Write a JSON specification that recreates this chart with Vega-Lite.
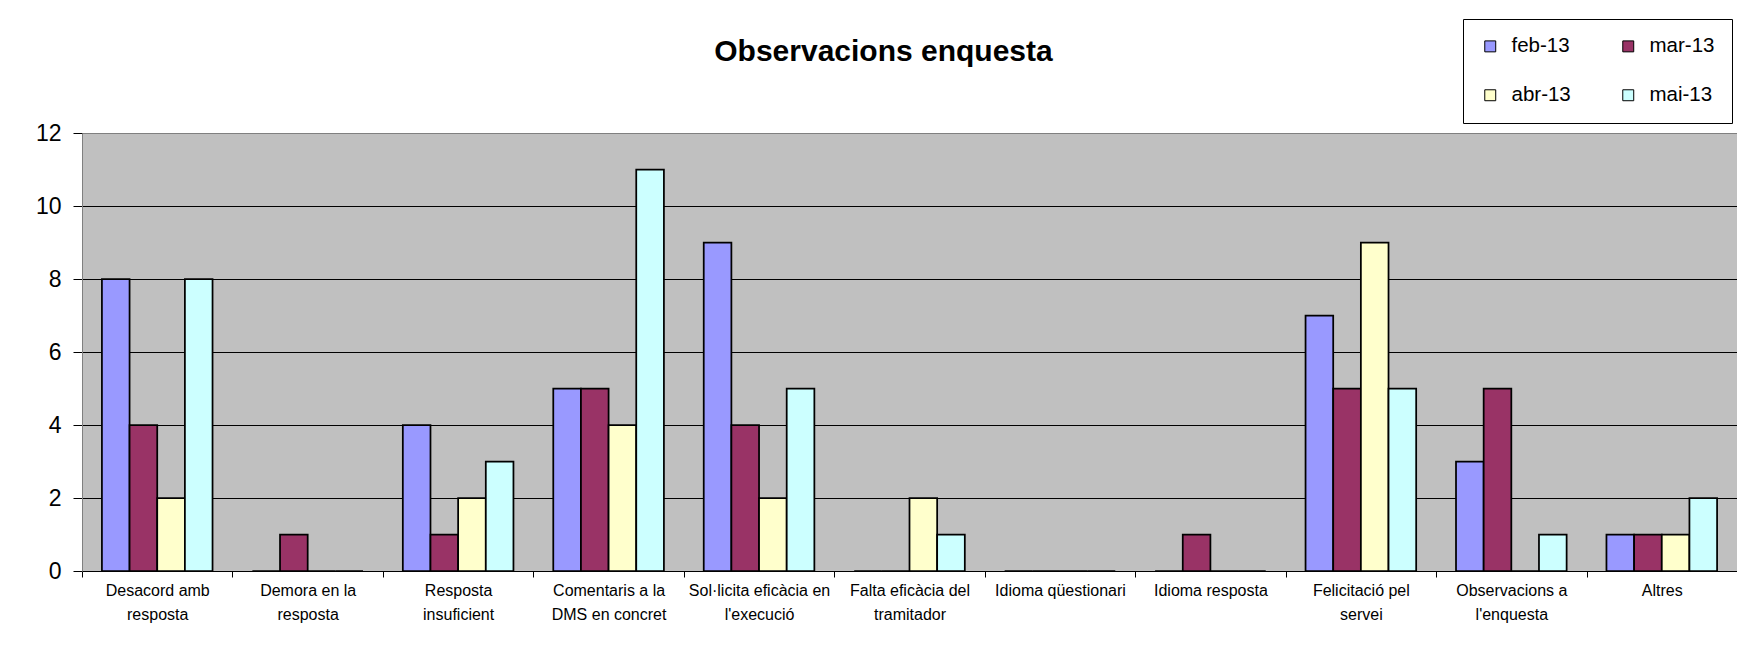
{
  "$schema": "https://vega.github.io/schema/vega-lite/v6.json",
  "autosize": {"type": "none"},
  "padding": {"left": 82, "top": 133, "right": 0, "bottom": 74},
  "width": 1655,
  "height": 438,
  "background": "white",
  "title": {
    "text": "Observacions enquesta",
    "font": "Liberation Sans",
    "fontSize": 30,
    "fontWeight": "bold",
    "color": "black",
    "anchor": "middle",
    "frame": "group",
    "dx": -26,
    "baseline": "alphabetic",
    "offset": -72
  },
  "data": {
    "values": [
      {"categoria": "Desacord amb resposta", "mes": "feb-13", "valor": 8},
      {"categoria": "Desacord amb resposta", "mes": "mar-13", "valor": 4},
      {"categoria": "Desacord amb resposta", "mes": "abr-13", "valor": 2},
      {"categoria": "Desacord amb resposta", "mes": "mai-13", "valor": 8},
      {"categoria": "Demora en la resposta", "mes": "feb-13", "valor": 0},
      {"categoria": "Demora en la resposta", "mes": "mar-13", "valor": 1},
      {"categoria": "Demora en la resposta", "mes": "abr-13", "valor": 0},
      {"categoria": "Demora en la resposta", "mes": "mai-13", "valor": 0},
      {"categoria": "Resposta insuficient", "mes": "feb-13", "valor": 4},
      {"categoria": "Resposta insuficient", "mes": "mar-13", "valor": 1},
      {"categoria": "Resposta insuficient", "mes": "abr-13", "valor": 2},
      {"categoria": "Resposta insuficient", "mes": "mai-13", "valor": 3},
      {"categoria": "Comentaris a la DMS en concret", "mes": "feb-13", "valor": 5},
      {"categoria": "Comentaris a la DMS en concret", "mes": "mar-13", "valor": 5},
      {"categoria": "Comentaris a la DMS en concret", "mes": "abr-13", "valor": 4},
      {"categoria": "Comentaris a la DMS en concret", "mes": "mai-13", "valor": 11},
      {"categoria": "Sol·licita eficàcia en l'execució", "mes": "feb-13", "valor": 9},
      {"categoria": "Sol·licita eficàcia en l'execució", "mes": "mar-13", "valor": 4},
      {"categoria": "Sol·licita eficàcia en l'execució", "mes": "abr-13", "valor": 2},
      {"categoria": "Sol·licita eficàcia en l'execució", "mes": "mai-13", "valor": 5},
      {"categoria": "Falta eficàcia del tramitador", "mes": "feb-13", "valor": 0},
      {"categoria": "Falta eficàcia del tramitador", "mes": "mar-13", "valor": 0},
      {"categoria": "Falta eficàcia del tramitador", "mes": "abr-13", "valor": 2},
      {"categoria": "Falta eficàcia del tramitador", "mes": "mai-13", "valor": 1},
      {"categoria": "Idioma qüestionari", "mes": "feb-13", "valor": 0},
      {"categoria": "Idioma qüestionari", "mes": "mar-13", "valor": 0},
      {"categoria": "Idioma qüestionari", "mes": "abr-13", "valor": 0},
      {"categoria": "Idioma qüestionari", "mes": "mai-13", "valor": 0},
      {"categoria": "Idioma resposta", "mes": "feb-13", "valor": 0},
      {"categoria": "Idioma resposta", "mes": "mar-13", "valor": 1},
      {"categoria": "Idioma resposta", "mes": "abr-13", "valor": 0},
      {"categoria": "Idioma resposta", "mes": "mai-13", "valor": 0},
      {"categoria": "Felicitació pel servei", "mes": "feb-13", "valor": 7},
      {"categoria": "Felicitació pel servei", "mes": "mar-13", "valor": 5},
      {"categoria": "Felicitació pel servei", "mes": "abr-13", "valor": 9},
      {"categoria": "Felicitació pel servei", "mes": "mai-13", "valor": 5},
      {"categoria": "Observacions a l'enquesta", "mes": "feb-13", "valor": 3},
      {"categoria": "Observacions a l'enquesta", "mes": "mar-13", "valor": 5},
      {"categoria": "Observacions a l'enquesta", "mes": "abr-13", "valor": 0},
      {"categoria": "Observacions a l'enquesta", "mes": "mai-13", "valor": 1},
      {"categoria": "Altres", "mes": "feb-13", "valor": 1},
      {"categoria": "Altres", "mes": "mar-13", "valor": 1},
      {"categoria": "Altres", "mes": "abr-13", "valor": 1},
      {"categoria": "Altres", "mes": "mai-13", "valor": 2}
    ]
  },
  "mark": {"type": "bar", "stroke": "black", "strokeWidth": 1.75},
  "encoding": {
    "x": {
      "field": "categoria",
      "type": "nominal",
      "sort": null,
      "title": null,
      "scale": {"paddingInner": 0, "paddingOuter": 0},
      "axis": {
        "labelAngle": 0,
        "labelFont": "Liberation Sans",
        "labelFontSize": 16,
        "labelColor": "black",
        "labelLineHeight": 24,
        "labelPadding": 5,
        "labelBaseline": "top",
        "labelLimit": 0,
        "tickBand": "extent",
        "tickSize": 6,
        "tickColor": "black",
        "domainColor": "black",
        "domainWidth": 1,
        "labelExpr": "datum.label == \"Desacord amb resposta\" ? [\"Desacord amb\", \"resposta\"] : datum.label == \"Demora en la resposta\" ? [\"Demora en la\", \"resposta\"] : datum.label == \"Resposta insuficient\" ? [\"Resposta\", \"insuficient\"] : datum.label == \"Comentaris a la DMS en concret\" ? [\"Comentaris a la\", \"DMS en concret\"] : datum.label == \"Sol·licita eficàcia en l'execució\" ? [\"Sol·licita eficàcia en\", \"l'execució\"] : datum.label == \"Falta eficàcia del tramitador\" ? [\"Falta eficàcia del\", \"tramitador\"] : datum.label == \"Felicitació pel servei\" ? [\"Felicitació pel\", \"servei\"] : datum.label == \"Observacions a l'enquesta\" ? [\"Observacions a\", \"l'enquesta\"] : datum.label"
      }
    },
    "xOffset": {
      "field": "mes",
      "type": "nominal",
      "sort": ["feb-13", "mar-13", "abr-13", "mai-13"],
      "scale": {"domain": ["feb-13", "mar-13", "abr-13", "mai-13"], "paddingInner": 0, "paddingOuter": 0.72}
    },
    "y": {
      "field": "valor",
      "type": "quantitative",
      "title": null,
      "scale": {"domain": [0, 12], "nice": false},
      "axis": {
        "values": [0, 2, 4, 6, 8, 10, 12],
        "labelFont": "Liberation Sans",
        "labelFontSize": 23,
        "labelColor": "black",
        "labelPadding": 12,
        "tickSize": 9,
        "tickColor": "black",
        "domainColor": "#808080",
        "grid": true,
        "gridColor": {"condition": {"test": "datum.value === 12", "value": "#808080"}, "value": "black"},
        "gridWidth": 1
      }
    },
    "fill": {
      "field": "mes",
      "type": "nominal",
      "sort": ["feb-13", "mar-13", "abr-13", "mai-13"],
      "scale": {
        "domain": ["feb-13", "mar-13", "abr-13", "mai-13"],
        "range": ["#9999FF", "#993366", "#FFFFCC", "#CCFFFF"]
      },
      "legend": {
        "title": null,
        "orient": "none",
        "legendX": 1381,
        "legendY": -114,
        "direction": "horizontal",
        "columns": 2,
        "symbolType": "square",
        "symbolSize": 120,
        "symbolStrokeColor": "black",
        "symbolStrokeWidth": 1,
        "labelFont": "Liberation Sans",
        "labelFontSize": 20.5,
        "labelColor": "black",
        "labelOffset": 11,
        "columnPadding": 47,
        "rowPadding": 28,
        "padding": 17,
        "fillColor": "white",
        "strokeColor": "black"
      }
    }
  },
  "config": {
    "view": {"fill": "#C0C0C0", "stroke": "#808080", "strokeWidth": 1},
    "legend": {"strokeWidth": 1}
  }
}
